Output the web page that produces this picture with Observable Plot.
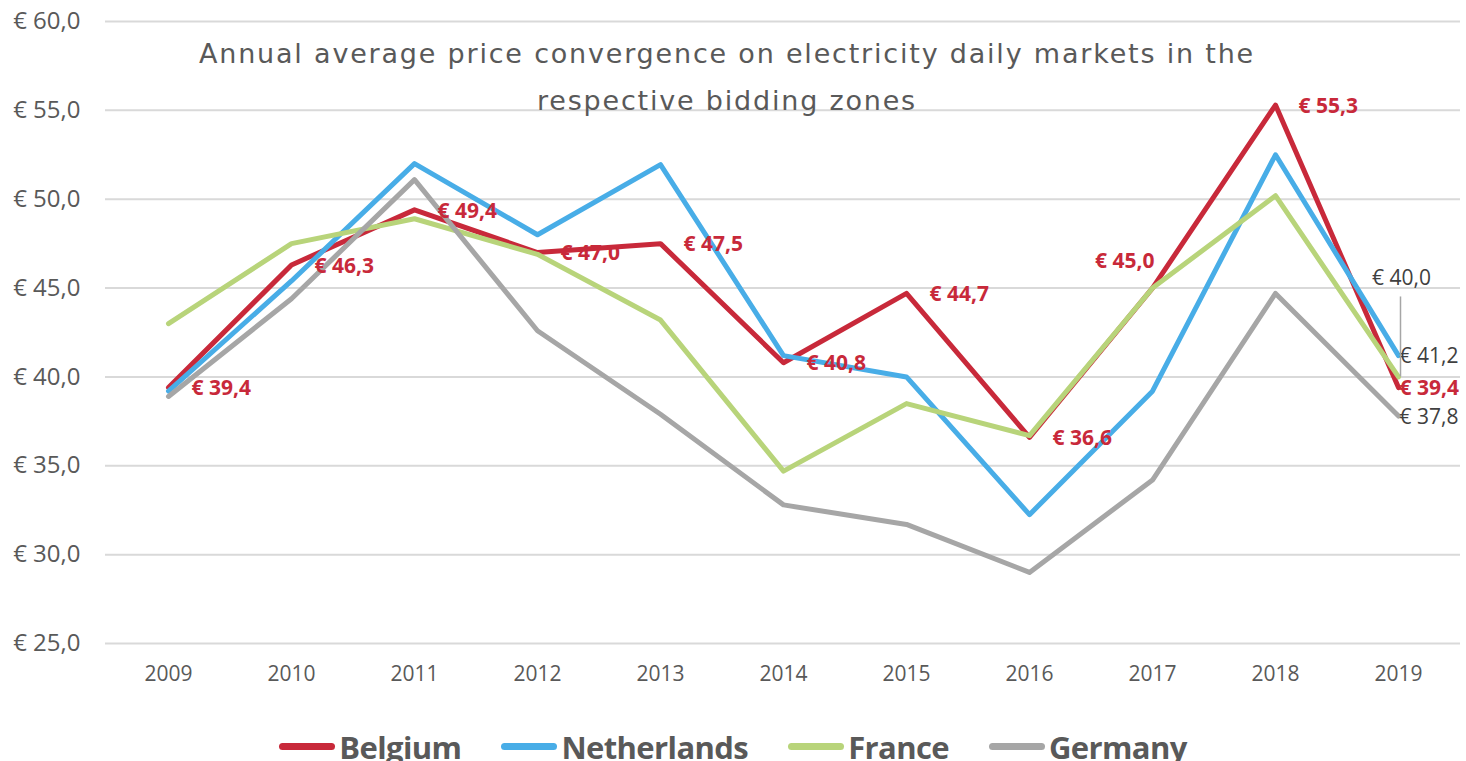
<!DOCTYPE html>
<html>
<head>
<meta charset="utf-8">
<script src="https://cdn.jsdelivr.net/npm/d3@7"></script>
<script src="https://cdn.jsdelivr.net/npm/@observablehq/plot@0.6"></script>
<style>
  body { margin: 0; background: #fff; font-family: "Open Sans", sans-serif; }
  #wrap { position: relative; width: 1466px; height: 761px; overflow: hidden; background: #fff; }
  #legend { position: absolute; left: 0; top: 727px; width: 1466px; display: flex; justify-content: center; gap: 40px; align-items: center; }
  .item { display: flex; align-items: center; }
  .sw { display: inline-block; width: 56px; height: 7px; border-radius: 4px; margin-right: 4px; position: relative; top: -1px; }
  .lb { font-family: "Open Sans", sans-serif; font-weight: bold; font-size: 31px; letter-spacing: -0.6px; color: #595959; line-height: 40px; }
</style>
</head>
<body>
<div id="wrap">
  <div id="chart"></div>
  <div id="legend"></div>
</div>
<script>
const years = ["2009","2010","2011","2012","2013","2014","2015","2016","2017","2018","2019"];
const seriesNames = ["Belgium","Netherlands","France","Germany"];
const seriesColors = ["#c8293a","#48ade7","#b8d47a","#a6a6a6"];
const belgium     = [39.4, 46.3, 49.4, 47.0, 47.5, 40.8, 44.7, 36.6, 45.0, 55.3, 39.4];
const netherlands = [39.2, 45.4, 52.0, 48.0, 51.95, 41.2, 40.0, 32.25, 39.2, 52.5, 41.2];
const france      = [43.0, 47.5, 48.9, 46.9, 43.2, 34.7, 38.5, 36.7, 45.0, 50.2, 40.0];
const germany     = [38.9, 44.4, 51.1, 42.6, 37.9, 32.8, 31.7, 29.0, 34.2, 44.7, 37.8];
const yTicks = [25, 30, 35, 40, 45, 50, 55, 60];
const titleText = "Annual average price convergence on electricity daily markets in the\nrespective bidding zones";

const values = [belgium, netherlands, france, germany];
const data = seriesNames.flatMap((s, i) => years.map((y, j) => ({series: s, year: y, value: values[i][j]})));
const fmt = d => "€ " + d.toFixed(1).replace(".", ",");
const byS = s => data.filter(d => d.series === s);
const lastYear = years[years.length - 1];
const red = seriesColors[0];

const chart = Plot.plot({
  width: 1466,
  height: 700,
  marginLeft: 105,
  marginRight: 6,
  marginTop: 21,
  marginBottom: 57,
  style: {fontFamily: "'Open Sans', sans-serif", color: "#595959", background: "white", overflow: "visible"},
  x: {type: "point", domain: years, padding: 0.5, axis: null},
  y: {domain: [25, 60], axis: null},
  color: {domain: seriesNames, range: seriesColors},
  marks: [
    Plot.gridY(yTicks, {stroke: "#d9d9d9", strokeOpacity: 1, strokeWidth: 2}),
    Plot.axisY(yTicks, {tickSize: 0, tickPadding: 25, tickFormat: fmt, fontSize: 24, label: null}),
    Plot.axisX(years, {tickSize: 0, tickPadding: 23, fontSize: 21, label: null}),
    Plot.text([titleText], {text: d => d, frameAnchor: "top", dx: -56, dy: 8.5, fontSize: 27, lineHeight: 1.74, fill: "#595959", fontFamily: "'DejaVu Sans', sans-serif"}),
    Plot.line(data, {x: "year", y: "value", z: "series", stroke: "series", strokeWidth: 5, strokeLinejoin: "round"}),
    // Belgium data labels
    Plot.text(byS("Belgium").filter(d => d.year !== "2017" && d.year !== lastYear),
      {x: "year", y: "value", text: d => fmt(d.value), dx: 23, dy: 1, textAnchor: "start", fill: red, fontWeight: "bold", fontSize: 21}),
    Plot.text(byS("Belgium").filter(d => d.year === "2017"),
      {x: "year", y: "value", text: d => fmt(d.value), dx: 2, dy: -27, textAnchor: "end", fill: red, fontWeight: "bold", fontSize: 21}),
    Plot.text(byS("Belgium").filter(d => d.year === lastYear),
      {x: "year", y: "value", text: d => fmt(d.value), dx: 1, dy: 1, textAnchor: "start", fill: red, fontWeight: "bold", fontSize: 21}),
    // Other end labels
    Plot.text(data.filter(d => d.year === lastYear && (d.series === "Netherlands" || d.series === "Germany")),
      {x: "year", y: "value", text: d => fmt(d.value), dx: 1, dy: 1, textAnchor: "start", fill: "#404040", fontSize: 21}),
    Plot.ruleX(data.filter(d => d.year === lastYear && d.series === "France"),
      {x: "year", y1: "value", y2: d => d.value + 4.5, stroke: "#a6a6a6", strokeWidth: 1.5, dx: 2}),
    Plot.text(data.filter(d => d.year === lastYear && d.series === "France"),
      {x: "year", y: "value", text: d => fmt(d.value), dx: 3, dy: -99, textAnchor: "middle", fill: "#404040", fontSize: 21})
  ]
});
// widen the tracking of the title, as in the reference
d3.select(chart).selectAll("g[font-family*='DejaVu']").attr("letter-spacing", "1.8px");
document.getElementById("chart").appendChild(chart);

const legend = document.getElementById("legend");
seriesNames.forEach((s, i) => {
  const item = document.createElement("div");
  item.className = "item";
  item.innerHTML = `<span class="sw" style="background:${seriesColors[i]}"></span><span class="lb">${s}</span>`;
  legend.appendChild(item);
});
</script>
</body>
</html>
